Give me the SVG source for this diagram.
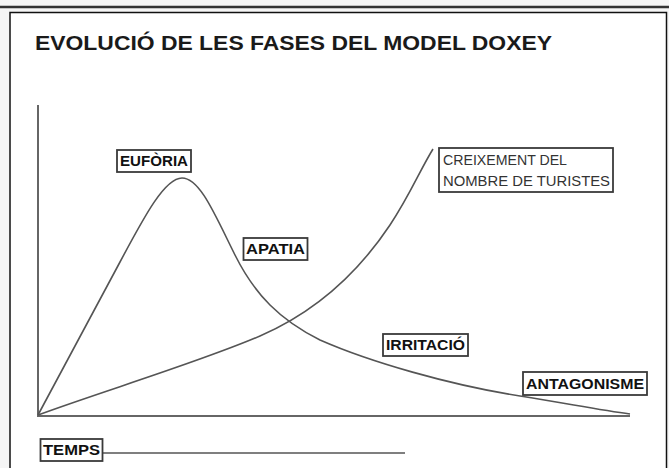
<svg xmlns="http://www.w3.org/2000/svg" width="669" height="468" viewBox="0 0 669 468">
<style>
.lbl rect{fill:#fff;stroke:#3a3a3a;stroke-width:1.8}
.lbl text{font-family:"Liberation Sans",Arial,sans-serif;font-weight:bold;font-size:14px;fill:#111}
.curve{fill:none;stroke:#555;stroke-width:1.6}
.axis{fill:none;stroke:#666;stroke-width:2}
</style>
<rect x="0" y="0" width="669" height="468" fill="#f5f5f5"/>
<line x1="0" y1="7" x2="669" y2="7" stroke="#333" stroke-width="2.4"/>
<rect x="10" y="12.5" width="656.5" height="470" fill="#fff" stroke="#111" stroke-width="1.5"/>
<g id="title">
<text x="35" y="50" font-family="'Liberation Sans',Arial,sans-serif" font-size="21" font-weight="bold" fill="#1a1a1a" textLength="517" lengthAdjust="spacingAndGlyphs">EVOLUCIÓ DE LES FASES DEL MODEL DOXEY</text>
</g>
<g id="axes">
<line class="axis" x1="38" y1="105" x2="38" y2="416"/>
<line class="axis" x1="37" y1="416" x2="630" y2="416"/>
</g>
<g id="connectors">
<path id="curve-reaction" class="curve" d="M38,415 L120,262 C145,215 165,178 182,178 C200,178 215,215 235,255 C255,295 280,320 320,340 C370,362 450,385 520,396 C570,404 600,410 630,414"/>
<path id="curve-tourists" class="curve" d="M38,415 C100,392 200,362 260,336 C320,310 360,270 390,225 C410,195 420,170 433,149"/>
<line id="temps-line" x1="103" y1="453" x2="405" y2="453" stroke="#555" stroke-width="1.6"/>
</g>
<g id="euforia" class="lbl">
<rect x="117" y="150" width="74" height="22"/>
<text x="120" y="166" textLength="68" lengthAdjust="spacingAndGlyphs">EUFÒRIA</text>
</g>
<g id="apatia" class="lbl">
<rect x="243.5" y="238" width="64" height="22"/>
<text x="246" y="254" textLength="59" lengthAdjust="spacingAndGlyphs">APATIA</text>
</g>
<g id="creixement">
<rect x="439" y="148" width="174" height="44" fill="#fff" stroke="#3a3a3a" stroke-width="1.8"/>
<text x="443" y="165" font-family="'Liberation Sans',Arial,sans-serif" font-size="14" fill="#333" textLength="124" lengthAdjust="spacingAndGlyphs">CREIXEMENT DEL</text>
<text x="443" y="186" font-family="'Liberation Sans',Arial,sans-serif" font-size="14" fill="#333" textLength="167" lengthAdjust="spacingAndGlyphs">NOMBRE DE TURISTES</text>
</g>
<g id="irritacio" class="lbl">
<rect x="383" y="334" width="85" height="22"/>
<text x="386" y="350" textLength="79" lengthAdjust="spacingAndGlyphs">IRRITACIÓ</text>
</g>
<g id="antagonisme" class="lbl">
<rect x="523" y="372" width="124" height="23"/>
<text x="526" y="389" textLength="118" lengthAdjust="spacingAndGlyphs">ANTAGONISME</text>
</g>
<g id="temps" class="lbl">
<rect x="40.5" y="439" width="62" height="22"/>
<text x="43" y="455" textLength="57" lengthAdjust="spacingAndGlyphs">TEMPS</text>
</g>
</svg>
